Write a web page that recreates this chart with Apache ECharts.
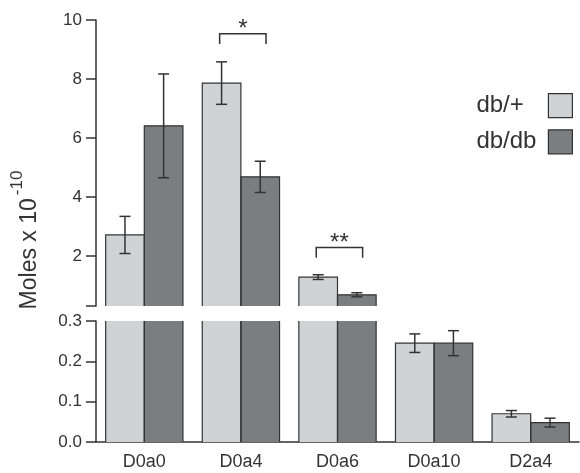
<!DOCTYPE html>
<html>
<head>
<meta charset="utf-8">
<style>
html,body{margin:0;padding:0;background:#fff;}
#chart{width:580px;height:473px;}
</style>
<script src="https://cdn.jsdelivr.net/npm/echarts@6/dist/echarts.min.js"></script>
</head>
<body>
<div id="chart"></div>
<script>
// ---- data ----
const categories = ['D0a0', 'D0a4', 'D0a6', 'D0a10', 'D2a4'];
const seriesNames = ['db/+', 'db/db'];
const dbPlus = [2.71, 7.86, 1.28, 0.245, 0.070];
const dbPlusErr = [0.63, 0.72, 0.08, 0.023, 0.008];
const dbdb = [6.41, 4.68, 0.68, 0.245, 0.048];
const dbdbErr = [1.76, 0.53, 0.07, 0.031, 0.011];
const breakValue = 0.3;
const topMax = 10;
const topTickLabels = [2, 4, 6, 8, 10];
const bottomTickLabels = [0, 0.1, 0.2, 0.3];
const sigCategories = ['D0a4', 'D0a6'];
const sigLabels = ['*', '**'];
const sigBracketTop = [9.53, 2.28];
const sigBracketLeg = [9.19, 1.94];

// ---- styles ----
const FONT = 'Liberation Sans, Arial, Helvetica, sans-serif';
const INK = '#333333';
const LIGHT = '#d1d2d4';
const DARK = '#7c7d81';
const BAR_FRAC = 0.4; // bar width as fraction of category width (20% gap, 0 gap between bars)

const chart = echarts.init(document.getElementById('chart'), null, {renderer: 'canvas'});

function topVals(arr) { return arr.map(v => v > breakValue ? v : '-'); }

function errSeries(gridIdx, values, errs, side, keep) {
  const data = [];
  values.forEach((v, i) => { if (keep(v)) data.push([i, v, errs[i]]); });
  return {
    type: 'custom',
    xAxisIndex: gridIdx, yAxisIndex: gridIdx,
    z: 5, silent: true,
    encode: {x: 0, y: 1},
    data: data,
    renderItem: function (params, api) {
      const cw = api.size([1, 0])[0];
      const x = api.coord([api.value(0), 0])[0] + side * cw * BAR_FRAC / 2;
      const m = api.value(1), e = api.value(2);
      const yHi = api.coord([api.value(0), m + e])[1];
      const yLo = api.coord([api.value(0), m - e])[1];
      const h = 5.5;
      const st = {stroke: INK, lineWidth: 1.5};
      return {type: 'group', children: [
        {type: 'line', shape: {x1: x, y1: yHi, x2: x, y2: yLo}, style: st},
        {type: 'line', shape: {x1: x - h, y1: yHi, x2: x + h, y2: yHi}, style: st},
        {type: 'line', shape: {x1: x - h, y1: yLo, x2: x + h, y2: yLo}, style: st}
      ]};
    }
  };
}

// outline of each bar, left open where the bar is cut by the axis break
function outlineSeries(gridIdx, values, side) {
  return {
    type: 'custom',
    xAxisIndex: gridIdx, yAxisIndex: gridIdx,
    z: 4, silent: true,
    encode: {x: 0, y: 1},
    data: values.map((v, i) => [i, v]),
    renderItem: function (params, api) {
      const cs = params.coordSys;
      const v = api.value(1);
      if (isNaN(v)) return null;
      const cw = api.size([1, 0])[0];
      const xc = api.coord([api.value(0), 0])[0] + side * cw * BAR_FRAC / 2;
      const x0 = xc - cw * BAR_FRAC / 2, x1 = xc + cw * BAR_FRAC / 2;
      const yB = cs.y + cs.height;
      let yV = api.coord([api.value(0), v])[1];
      if (yV > yB) return null;
      const st = {stroke: INK, lineWidth: 1.2, fill: null};
      if (yV < cs.y) {
        return {type: 'group', children: [
          {type: 'line', shape: {x1: x0, y1: cs.y, x2: x0, y2: yB}, style: st},
          {type: 'line', shape: {x1: x1, y1: cs.y, x2: x1, y2: yB}, style: st}
        ]};
      }
      return {type: 'polyline', shape: {points: [[x0, yB], [x0, yV], [x1, yV], [x1, yB]]}, style: st};
    }
  };
}

const barBase = {
  type: 'bar',
  barGap: '0%',
  barCategoryGap: '20%',
  clip: true
};

const sigData = sigCategories.map((c, i) => [categories.indexOf(c), sigBracketTop[i], sigBracketLeg[i]]);

const option = {
  animation: false,
  backgroundColor: '#ffffff',
  textStyle: {fontFamily: FONT},
  legend: {
    orient: 'vertical',
    right: 7, top: 93,
    padding: 0,
    align: 'right',
    itemWidth: 24, itemHeight: 24, itemGap: 11,
    icon: 'rect',
    data: seriesNames,
    itemStyle: {borderColor: INK, borderWidth: 1.2},
    formatter: name => '{t|' + name + '}',
    textStyle: {
      fontFamily: FONT, fontSize: 24, color: INK,
      rich: {t: {width: 67, align: 'left', fontSize: 24, lineHeight: 24, fontFamily: FONT, color: INK}}
    }
  },
  grid: [
    {left: 96, right: 1, top: 20, height: 286},
    {left: 96, right: 1, top: 321, height: 121}
  ],
  xAxis: [
    {gridIndex: 0, type: 'category', data: categories, show: false},
    {gridIndex: 1, type: 'category', data: categories,
      axisLine: {lineStyle: {color: INK, width: 1.5}},
      axisTick: {show: false},
      axisLabel: {fontSize: 18, color: INK, margin: 11, fontFamily: FONT}
    }
  ],
  yAxis: [
    {gridIndex: 0, type: 'value', min: breakValue, max: topMax,
      axisLine: {show: true, lineStyle: {color: INK, width: 1.5}},
      axisTick: {show: true, length: 10, customValues: [breakValue].concat(topTickLabels), lineStyle: {color: INK, width: 1.5}},
      axisLabel: {customValues: topTickLabels, fontSize: 17, color: INK, margin: 14, fontFamily: FONT},
      splitLine: {show: false}
    },
    {gridIndex: 1, type: 'value', min: 0, max: breakValue, interval: 0.1,
      axisLine: {show: true, lineStyle: {color: INK, width: 1.5}},
      axisTick: {show: true, length: 10, customValues: bottomTickLabels, lineStyle: {color: INK, width: 1.5}},
      axisLabel: {customValues: bottomTickLabels, fontSize: 17, color: INK, margin: 14, fontFamily: FONT,
        formatter: v => Number(v).toFixed(1)},
      splitLine: {show: false}
    }
  ],
  graphic: [{
    type: 'text',
    x: 25, y: 240,
    rotation: Math.PI / 2,
    style: {
      text: '{a|Moles x 10}{b|-10}',
      align: 'center', verticalAlign: 'middle',
      fill: INK,
      rich: {
        a: {fontSize: 23, fontFamily: FONT, fill: INK, verticalAlign: 'bottom', lineHeight: 32},
        b: {fontSize: 17, fontFamily: FONT, fill: INK, verticalAlign: 'top', lineHeight: 17, padding: [0, 0, 0, 3]}
      }
    }
  }],
  series: [
    Object.assign({}, barBase, {name: seriesNames[0], xAxisIndex: 0, yAxisIndex: 0, data: topVals(dbPlus),
      itemStyle: {color: LIGHT, borderColor: INK, borderWidth: 0}}),
    Object.assign({}, barBase, {name: seriesNames[1], xAxisIndex: 0, yAxisIndex: 0, data: topVals(dbdb),
      itemStyle: {color: DARK, borderColor: INK, borderWidth: 0}}),
    Object.assign({}, barBase, {name: seriesNames[0], xAxisIndex: 1, yAxisIndex: 1, data: dbPlus,
      itemStyle: {color: LIGHT, borderColor: INK, borderWidth: 0}}),
    Object.assign({}, barBase, {name: seriesNames[1], xAxisIndex: 1, yAxisIndex: 1, data: dbdb,
      itemStyle: {color: DARK, borderColor: INK, borderWidth: 0}}),
    outlineSeries(0, topVals(dbPlus), -1),
    outlineSeries(0, topVals(dbdb), 1),
    outlineSeries(1, dbPlus, -1),
    outlineSeries(1, dbdb, 1),
    errSeries(0, dbPlus, dbPlusErr, -1, v => v > breakValue),
    errSeries(0, dbdb, dbdbErr, 1, v => v > breakValue),
    errSeries(1, dbPlus, dbPlusErr, -1, v => v <= breakValue),
    errSeries(1, dbdb, dbdbErr, 1, v => v <= breakValue),
    {
      type: 'custom', xAxisIndex: 0, yAxisIndex: 0, z: 6, silent: true,
      encode: {x: 0, y: 1},
      data: sigData,
      renderItem: function (params, api) {
        const cw = api.size([1, 0])[0];
        const cx = api.coord([api.value(0), 0])[0];
        const l = cx - 0.22 * cw, r = cx + 0.26 * cw;
        const yt = api.coord([api.value(0), api.value(1)])[1];
        const yl = api.coord([api.value(0), api.value(2)])[1];
        return {type: 'group', children: [
          {type: 'polyline', shape: {points: [[l, yl], [l, yt], [r, yt], [r, yl]]},
            style: {stroke: INK, lineWidth: 1.5, fill: null}},
          {type: 'text', x: (l + r) / 2, y: yt - 4,
            style: {text: sigLabels[params.dataIndex], fontSize: 24, fontFamily: FONT, fill: INK,
              align: 'center', verticalAlign: 'middle'}}
        ]};
      }
    }
  ]
};
chart.setOption(option);
</script>
</body>
</html>
